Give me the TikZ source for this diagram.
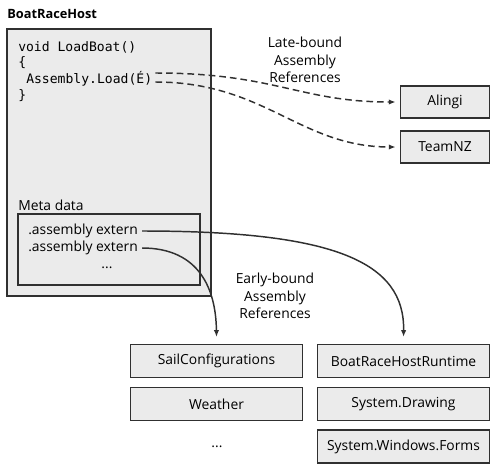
\documentclass[tikz,border=0pt]{standalone}
\usepackage{fontspec}
\setmainfont{Open Sans}
\setmonofont{DejaVu Sans Mono}
\usetikzlibrary{fit,arrows.meta}
\definecolor{boxfill}{HTML}{EBEBEB}
\definecolor{edge}{HTML}{303030}
\begin{document}
\begin{tikzpicture}[x=0.75pt,y=-0.75pt,
  every node/.style={font=\fontsize{10.4}{12}\selectfont, text=black},
  asmbox/.style={draw=edge, fill=boxfill, line width=1.2pt, minimum width=129pt, minimum height=25pt, inner sep=0pt},
  smallbox/.style={draw=edge, fill=boxfill, line width=1.2pt, minimum width=67pt, minimum height=24pt, inner sep=0pt},
  codeline/.style={anchor=west, font=\ttfamily\fontsize{9.8}{11}\selectfont, inner sep=0pt},
  txt/.style={anchor=west, inner sep=0pt},
  latelink/.style={edge, line width=1.1pt, dash pattern=on 5pt off 3pt, -{Latex[length=5pt,width=4pt]}},
  earlylink/.style={edge, line width=1.1pt, -{Latex[length=5pt,width=4pt]}},
  lbl/.style={align=center, font=\fontsize{10.4}{13}\selectfont, inner sep=0pt}
]
\useasboundingbox (0,0) rectangle (500,469);
% title
\node[txt, font=\bfseries\fontsize{9.6}{12}\selectfont] (title) at (7,14) {BoatRaceHost};
% host box
\node[draw=edge, fill=boxfill, line width=1.4pt, inner sep=0pt, fit={(7,29) (211,296)}] (host) {};
% code
\node[codeline] (c1) at (18,47) {void LoadBoat()};
\node[codeline] (c2) at (18,63) {\{};
\node[codeline] (load) at (26,79) {Assembly.Load(É)};
\node[codeline] (c4) at (18,96) {\}};
% meta data
\node[txt] (meta) at (18,205) {Meta data};
\node[draw=edge, line width=1.2pt, inner sep=0pt, fit={(18,214) (200,285)}] (metabox) {};
\node[txt] (ext1) at (28,231) {.assembly extern};
\node[txt] (ext2) at (28,248) {.assembly extern};
\node[inner sep=0pt] (dots1) at (107,268) {...};
% late-bound
\node[lbl] (latelbl) at (305,60) {Late-bound\\Assembly\\References};
\node[smallbox] (alingi) at (445,102) {Alingi};
\node[smallbox] (teamnz) at (445,147) {TeamNZ};
% early-bound
\node[lbl] (earlylbl) at (275,296) {Early-bound\\Assembly\\References};
\node[asmbox] (sail) at (216.5,361) {SailConfigurations};
\node[asmbox] (weather) at (216.5,404) {Weather};
\node[inner sep=0pt] (dots2) at (217,447) {...};
\node[asmbox] (runtime) at (403.5,361) {BoatRaceHostRuntime};
\node[asmbox] (drawing) at (403.5,404) {System.Drawing};
\node[asmbox] (forms) at (403.5,446.5) {System.Windows.Forms};
% late-bound links
\draw[latelink] ([shift={(3,-6)}]load.east) .. controls (275,73) and (300,102) .. ([xshift=-3pt]alingi.west);
\draw[latelink] ([shift={(3,3)}]load.east) .. controls (265,82) and (300,147) .. ([xshift=-3pt]teamnz.west);
% early-bound links
\draw[earlylink] ([xshift=3pt]ext1.east) .. controls (335,231) and (405,262) .. ([yshift=5pt]runtime.north);
\draw[earlylink] ([xshift=3pt]ext2.east) .. controls (200,248) and (216,290) .. ([yshift=5pt]sail.north);
\end{tikzpicture}
\end{document}
